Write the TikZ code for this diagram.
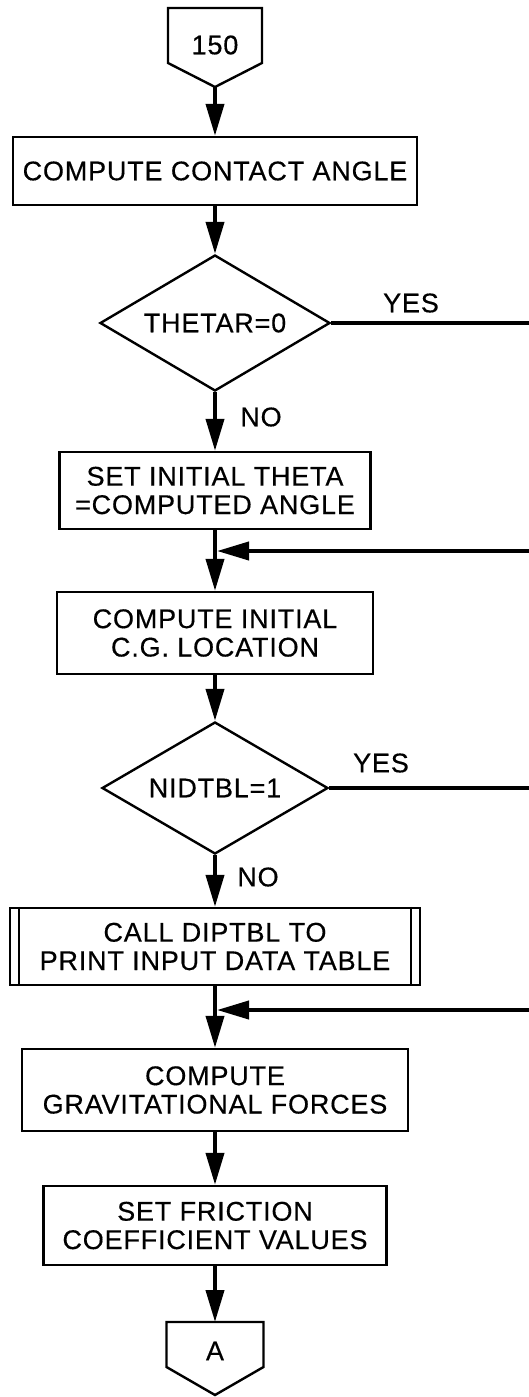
\documentclass[tikz,border=0pt]{standalone}
\usepackage{fontspec}
\setmainfont[LetterSpace=3,FakeBold=0.4]{Liberation Sans}
\usetikzlibrary{shapes.geometric,arrows.meta,calc}

\newcommand{\chartfont}{\fontsize{13.5}{14.2}\selectfont}

\tikzset{
  box/.style={draw, line width=1.2pt, inner sep=0pt, align=center, font=\chartfont},
  decision/.style={diamond, draw, line width=1.2pt, inner sep=0pt, aspect=2, font=\chartfont},
  offpage/.style={inner sep=0pt, font=\chartfont},
  outline/.style={line width=1.2pt, line join=miter},
  flow/.style={line width=2pt, -{Triangle[length=16pt,width=9pt]}},
  branch/.style={line width=2pt},
  tag/.style={inner sep=0pt, font=\chartfont}
}

\begin{document}
\begin{tikzpicture}[x=0.5pt, y=-0.5pt]
    \useasboundingbox (0,0) rectangle (529,1397);

    % Entry connector
    \node[offpage] (n150) at (215,45) {150};
    \draw[outline] ($(n150)+(-47,-37)$) -- ($(n150)+(47,-37)$) -- ($(n150)+(47,18)$)
        -- ($(n150)+(0,42)$) -- ($(n150)+(-47,18)$) -- cycle;
    \coordinate (n150tip) at ($(n150)+(0,42)$);

    % Process steps
    \node[box, minimum width=202pt, minimum height=34pt] (contact) at (215,171) {COMPUTE CONTACT ANGLE};
    \node[decision, minimum width=115pt, minimum height=68pt] (thetar) at (215,323) {THETAR=0};
    \node[box, minimum width=155.5pt, minimum height=38.5pt] (settheta) at (215,490.5) {SET INITIAL THETA\\=COMPUTED ANGLE};
    \node[box, minimum width=158pt, minimum height=41pt] (cginit) at (215,633) {COMPUTE INITIAL\\C.G. LOCATION};
    \node[decision, minimum width=113pt, minimum height=66pt] (nidtbl) at (215,788) {NIDTBL=1};
    \node[box, minimum width=205pt, minimum height=38.5pt] (diptbl) at (215,946.5) {CALL DIPTBL TO\\PRINT INPUT DATA TABLE};
    \draw[outline] ($(diptbl.north west)+(10,0)$) -- ($(diptbl.south west)+(10,0)$);
    \draw[outline] ($(diptbl.north east)+(-10,0)$) -- ($(diptbl.south east)+(-10,0)$);
    \node[box, minimum width=193pt, minimum height=41pt] (gravity) at (215,1090) {COMPUTE\\GRAVITATIONAL FORCES};
    \node[box, minimum width=171.5pt, minimum height=39.5pt] (friction) at (215,1225.5) {SET FRICTION\\COEFFICIENT VALUES};

    % Exit connector
    \node[offpage] (nA) at (215,1351) {A};
    \draw[outline] ($(nA)+(-48.5,-29)$) -- ($(nA)+(48.5,-29)$) -- ($(nA)+(48.5,16)$)
        -- ($(nA)+(0,44)$) -- ($(nA)+(-48.5,16)$) -- cycle;

    % Junctions and off-picture ends
    \coordinate (join1) at (217,551);
    \coordinate (join2) at (217,1010);
    \coordinate (yes1end) at (529,323);
    \coordinate (yes2end) at (529,788);
    \coordinate (back1) at (529,551);
    \coordinate (back2) at (529,1010);

    % Main flow
    \draw[flow] (n150tip) -- (contact.north);
    \draw[flow] (contact.south) -- (thetar.north);
    \draw[flow] (thetar.south) -- (settheta.north);
    \draw[flow] (settheta.south) -- (cginit.north);
    \draw[flow] (cginit.south) -- (nidtbl.north);
    \draw[flow] (nidtbl.south) -- (diptbl.north);
    \draw[flow] (diptbl.south) -- (gravity.north);
    \draw[flow] (gravity.south) -- (friction.north);
    \draw[flow] (friction.south) -- ($(nA)+(0,-29)$);

    % Branches
    \draw[branch] (thetar.east) -- (yes1end);
    \draw[branch] (nidtbl.east) -- (yes2end);
    \draw[flow] (back1) -- (join1);
    \draw[flow] (back2) -- (join2);

    % Labels
    \node[tag] (yes1) at (411,303) {YES};
    \node[tag] (no1) at (261,417) {NO};
    \node[tag] (yes2) at (381,763) {YES};
    \node[tag] (no2) at (258,877) {NO};
\end{tikzpicture}
\end{document}
